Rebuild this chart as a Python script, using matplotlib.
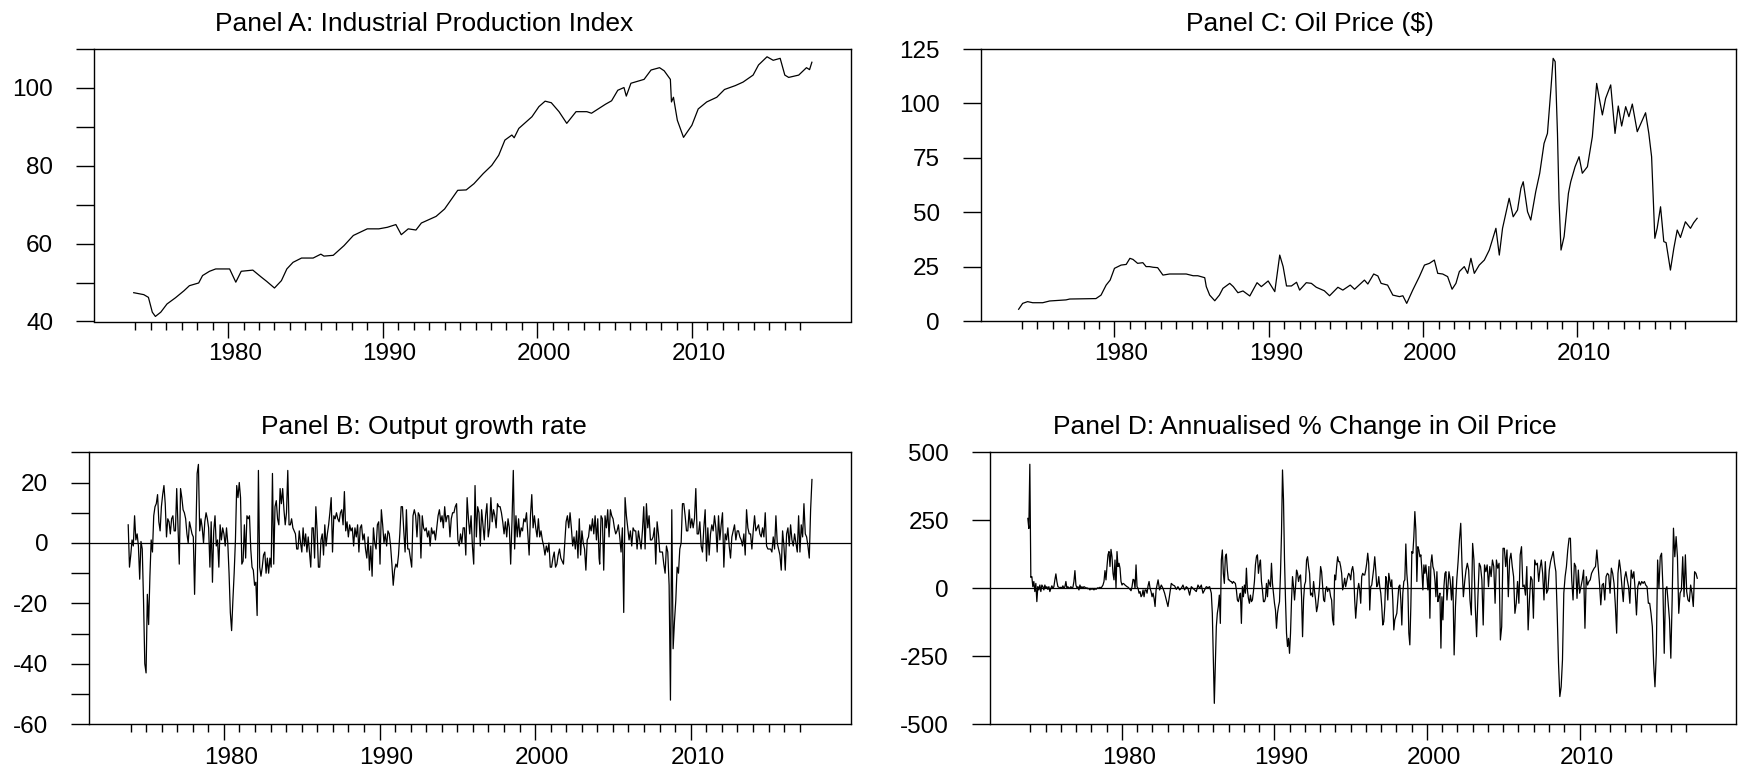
import numpy as np
import matplotlib
matplotlib.use("Agg")
import matplotlib.pyplot as plt

plt.rcParams['font.family'] = ['Liberation Sans', 'DejaVu Sans']

# ---- Panel A: industrial production index ----
ip_years = [1973.9, 1974.55, 1974.85, 1975.1, 1975.3, 1975.65, 1976.05, 1976.6, 1977.15, 1977.5,
            1978.1, 1978.35, 1978.8, 1979.2, 1979.75, 1980.1, 1980.5, 1980.85, 1981.6, 1982.15,
            1982.5, 1983.0, 1983.45, 1983.8, 1984.2, 1984.75, 1985.5, 1986.0, 1986.2, 1986.8,
            1987.5, 1988.1, 1989.0, 1989.75, 1990.3, 1990.85, 1991.2, 1991.65, 1992.15, 1992.5,
            1993.45, 1994.0, 1994.85, 1995.4, 1995.9, 1996.5, 1997.05, 1997.5, 1997.9, 1998.35,
            1998.5, 1998.8, 1999.65, 2000.1, 2000.5, 2000.9, 2001.4, 2001.9, 2002.5, 2003.2,
            2003.5, 2004.4, 2004.8, 2005.2, 2005.6, 2005.75, 2006.05, 2006.9, 2007.35, 2007.9,
            2008.2, 2008.6, 2008.67, 2008.8, 2009.05, 2009.45, 2009.99, 2010.4, 2010.95, 2011.6,
            2012.1, 2012.8, 2013.3, 2013.95, 2014.3, 2014.85, 2015.25, 2015.7, 2016.0, 2016.25,
            2016.9, 2017.4, 2017.6, 2017.75]
ip_values = [47.4, 46.9, 46.2, 42.4, 41.3, 42.4, 44.5, 46.1, 47.9, 49.2,
             49.9, 51.8, 52.9, 53.5, 53.5, 53.5, 50.1, 52.9, 53.2, 51.4,
             50.3, 48.6, 50.5, 53.5, 55.2, 56.3, 56.3, 57.3, 56.8, 57.0,
             59.5, 62.1, 63.8, 63.8, 64.2, 64.9, 62.3, 63.8, 63.5, 65.3,
             67.0, 68.9, 73.7, 73.8, 75.4, 78.0, 80.1, 82.7, 86.6, 87.9,
             87.2, 89.6, 92.6, 95.2, 96.6, 96.2, 93.9, 90.9, 93.9, 93.9,
             93.5, 95.8, 96.7, 99.4, 100.1, 97.9, 101.2, 102.2, 104.6, 105.2,
             104.4, 102.2, 96.4, 97.6, 91.7, 87.3, 90.4, 94.6, 96.4, 97.6,
             99.6, 100.6, 101.5, 103.3, 105.9, 108.0, 107.1, 107.6, 103.3, 102.7,
             103.3, 105.2, 104.7, 106.6]

# ---- Panel B: output growth rate, monthly, in three stretches ----
growth_spans = [(1973.85, 1986.73), (1986.81, 2004.11), (2004.15, 2017.79)]
growth_1 = [6, -8, -4, 1, -1, 9, 1, 3, -1, -12, 0.5, -2, -19, -40, -43, -17, -27, -11, 1, -3,
            9, 12, 13, 16, 7, 4, 12, 16, 19, 13, 2, 8, 7, 3, 8, 9, 4, 4, 18, 6,
            -7, 18, 15, 11, 10, 8, 3, 0, 7, 5, 3, 2, -17, 3, 23, 26, 4, 8, 5, 0,
            7, 10, 8, 5, -8, 7, -13, 4, 9, -1, 1, -8, 6, 1, 5, 3, -1, 5, 0, -10,
            -23, -29, -19, -10, 1, 19, 15, 20, 15, -7, -6, 6, -5, 9, 8, 9, -2, -8, -9, -14,
            -13, -24, 24, -8, -11, -8, -4, -3, -10, -5, -10, -5, -8, 23, -7, 12, 14, 8, 6, 18,
            13, 18, 11, 6, 10, 24, 6, 6, 8, 5, 4, 3, -2, -2, 4, 0, -3, 5, -1, 3,
            -3, 2, -3, -8, 5, 5, -5, 12, 4, -8, -8, 1, 3, -4, 6, -1, 3, 6]
growth_2 = [10, 15, -3, 9, 8, 10, 8, 7, 10, 11, 6, 17, 4, 7, 2, 6, 4, 5, -1, 5,
            2, 6, -3, 5, 6, 1, 3, -2, -5, 2, -9, -1, -11, 5, 0, -2, 6, 7, -7, 11,
            6, 0, 3, -1, 4, 3, -1, -7, -14, -9, -7, -8, -4, 3, 12, 12, 4, -3, 11, -2,
            -2, -5, -8, 9, 11, 9, 2, 10, 9, -5, 9, 5, 4, 5, 2, 4, -1, 5, 3, 4,
            1, 5, 9, 11, 7, 9, 5, 12, 7, 9, 9, 2, 8, 10, 10, 12, 13, 1, -1, 3,
            0, 5, 5, -4, 15, 8, 3, 9, -1, -7, 19, 2, 12, 10, -1, 11, 6, 1, 9, 13,
            2, 5, 15, 7, 11, 9, 5, 13, 12, 12, 10, 7, 3, 7, 2, 8, 5, -7, 7, 24,
            -2, 9, 2, 8, 2, 5, 4, 8, 7, 10, 3, -4, 9, 16, 5, 9, 5, 2, 8, 2,
            4, 1, -1, -4, -1, -3, 0, -8, -8, -5, -3, -8, -7, -4, -2, -5, -6, -7, 0, 7,
            9, 5, 10, 5, -1, 2, -2, 4, -5, 8, -4, 4, 0, -2, -9, 1, 2, 6, 4, 8,
            3, 9, 1, 8, -5]
growth_3 = [-7, 9, 8, -9, 9, 5, 11, 2, 11, 9, 8, 5, 3, 4, 6, 2, -3, 5, -23, 15,
            9, 5, 1, 4, -1, 5, 4, 4, -2, 4, 1, -2, 4, 12, -2, 13, 5, 9, 1, 1,
            2, 5, -7, 7, 3, -3, -3, -3, -7, -10, -1, -3, -14, -52, 11, -35, -26, -19, -8, -10,
            -2, 0, 13, 13, 9, 4, 4, 11, 5, 8, 5, 8, 18, 3, 3, 7, -1, -3, 5, 11,
            -6, 5, -4, 3, 6, 4, 9, 5, -3, 9, 1, 6, 10, -8, 3, 1, 5, -1, -5, 2,
            4, 6, 1, 4, 4, 2, 1, -1, 3, -4, 11, 5, 3, 3, -2, 4, 9, 4, 5, 6,
            3, 2, 5, 2, 10, -1, -2, -2, -2, -3, 2, -2, 9, 0, -2, -4, -9, 4, -1, -9,
            3, 5, -1, 6, 1, -1, 3, 0, -3, 9, -3, 6, 2, 13, 3, 2, -1, -5, 11, 21]

# ---- Panel C: oil price ($) ----
oil_years = [1973.79, 1974.05, 1974.37, 1974.7, 1975.35, 1975.8, 1976.86, 1977.1, 1978.8, 1979.13,
             1979.46, 1979.72, 1980.0, 1980.43, 1980.76, 1981.0, 1981.2, 1981.5, 1981.84, 1982.05,
             1982.27, 1982.5, 1982.8, 1983.14, 1983.57, 1984.65, 1985.1, 1985.4, 1985.85, 1985.95,
             1986.17, 1986.5, 1986.8, 1987.03, 1987.47, 1987.7, 1988.0, 1988.33, 1988.77, 1989.24,
             1989.52, 1989.96, 1990.39, 1990.71, 1990.93, 1991.15, 1991.47, 1991.8, 1992.0, 1992.43,
             1992.76, 1993.08, 1993.6, 1993.94, 1994.48, 1994.8, 1995.28, 1995.56, 1996.2, 1996.42,
             1996.8, 1997.07, 1997.28, 1997.7, 1998.04, 1998.47, 1998.69, 1998.94, 1999.33, 1999.76,
             2000.09, 2000.41, 2000.73, 2000.95, 2001.27, 2001.59, 2001.88, 2002.13, 2002.35, 2002.67,
             2002.89, 2003.1, 2003.32, 2003.64, 2003.97, 2004.29, 2004.72, 2004.94, 2005.15, 2005.58,
             2005.84, 2006.12, 2006.34, 2006.49, 2006.77, 2006.98, 2007.3, 2007.56, 2007.84, 2008.06,
             2008.28, 2008.43, 2008.56, 2008.71, 2008.81, 2008.94, 2009.14, 2009.42, 2009.57, 2009.85,
             2010.11, 2010.32, 2010.65, 2010.97, 2011.25, 2011.4, 2011.62, 2011.83, 2012.16, 2012.44,
             2012.65, 2012.87, 2013.13, 2013.34, 2013.56, 2013.88, 2014.42, 2014.63, 2014.81, 2015.02,
             2015.17, 2015.39, 2015.6, 2015.75, 2016.03, 2016.25, 2016.47, 2016.68, 2017.0, 2017.33,
             2017.54, 2017.76]
oil_values = [5.4, 8.1, 8.9, 8.4, 8.4, 9.2, 9.7, 10.1, 10.3, 11.9,
              16.5, 18.8, 24.2, 25.7, 26.0, 28.8, 28.3, 26.5, 26.8, 25.0,
              25.0, 24.7, 24.5, 21.1, 21.6, 21.6, 20.8, 20.8, 19.9, 15.8,
              11.9, 9.3, 11.9, 15.0, 17.3, 15.8, 13.0, 13.8, 11.5, 17.6,
              15.8, 18.4, 13.5, 30.3, 25.0, 16.1, 16.1, 17.8, 14.2, 17.6,
              17.3, 15.5, 13.9, 11.6, 15.5, 14.2, 16.5, 14.6, 18.8, 17.0,
              21.6, 20.7, 17.3, 16.5, 11.9, 11.2, 11.6, 8.1, 14.2, 20.4,
              25.7, 26.5, 28.0, 21.9, 21.6, 20.4, 14.6, 17.3, 22.7, 25.0,
              21.9, 28.8, 21.9, 25.7, 28.0, 32.6, 42.6, 30.3, 42.6, 56.4,
              47.9, 51.0, 61.0, 64.0, 50.2, 46.4, 59.4, 67.9, 81.6, 86.2,
              106.2, 120.7, 119.2, 86.2, 55.6, 32.6, 38.8, 58.7, 64.0, 70.9,
              75.5, 67.9, 70.9, 84.7, 109.2, 103.1, 94.7, 102.3, 108.5, 86.2,
              98.8, 89.6, 98.5, 93.9, 99.7, 87.0, 95.7, 86.2, 75.5, 38.0,
              42.6, 52.5, 36.5, 36.0, 23.4, 33.4, 41.8, 38.4, 45.6, 42.6,
              45.2, 47.2]

# ---- Panel D: annualised % change in oil price, monthly, in stretches ----
change_spans = [(1973.83, 1982.37), (1982.47, 1985.75), (1985.86, 2001.44), (2001.52, 2017.72)]
change_1 = [257, 220, 456, 40, 43, 6, 25, -12, 18, -49, 6, -6, 12, -12, 12, 6, -6, 12, 0, 6,
            -4, 6, -12, 0, 9, 0, 6, 31, 53, 25, 6, 4, 0, 4, 0, 9, 0, 6, 25, 0,
            6, 0, 2, 6, 0, 4, 25, 65, 12, 2, 6, -6, 12, 0, 6, 0, 6, 4, 0, 2,
            -2, 0, -6, 0, -4, 0, -6, 0, -4, 0, 2, 0, 4, 0, 6, 12, 25, 65, 31, 80,
            123, 135, 80, 143, 116, 55, 31, 104, 0, 135, 80, 92, 74, 25, 12, 18, 16, 12, 9, 6,
            4, 0, -4, -9, 6, 33, 31, 0, 86, 6, 0, -18, -12, -31, -25, -6, -31, -6, -6, -18,
            9, 25, 0, -12, -31, -18, -37, -67, -6, 12, 31]
change_2 = [-6, 12, 0, -18, -43, -67, -25, 18, 12, 9, -4, 6, -6, 0, 12, -6, 6, 0, -25, 6,
            0, -6, -12, 12, 0, 12, -18, -6, 6, 2, 6]
change_3 = [-18, -92, -263, -423, -288, -141, -92, -67, -25, -129, 104, 141, 55, 18, 116, 126, 67, 31, 31, 25,
            25, 18, 25, 21, 18, -6, -43, -49, -31, -18, -129, 6, -31, 12, -18, 74, -6, -37, -55, -25,
            -49, -43, -12, 25, 86, 116, 123, 55, 86, 104, 25, -6, -49, -49, -37, 18, -31, 31, 18, 6,
            92, 18, -18, -55, -80, -147, -92, -67, -49, 55, 202, 435, 325, 104, -43, -165, -214, -184, -239, -165,
            -43, 43, 6, -43, 6, 67, 55, 25, 43, 49, -31, -178, -43, 12, 25, 104, 116, 80, 55, -25,
            -18, -31, 25, -12, -43, -86, -67, -31, 12, 80, 61, 6, -43, -49, -6, 6, -12, 0, -6, -31,
            -43, -116, -135, 49, 31, 80, 116, 98, 98, 80, 55, -6, 12, 37, 6, 25, 43, 55, 49, 31,
            67, 80, 55, -43, -110, -55, -6, 18, -6, -55, 43, 55, 49, 49, 67, 92, 129, 92, -80, 6,
            12, 43, 74, 116, 67, 6, 12, 43, 6, -18, -67, -135, -123, -67, 43, 25, -43, 55, 31, 6,
            31, -43, -153, -116, -104, -92, -43, 6, 12, -43, -135, -18, 25, 31, 163, 55, 6, -165, -208, -67,
            135, 129, 190, 282, 214, 25, 153, 141, 116, 123, 67, -6, 86, 55, 86, 43, -6, 80, -110, 92,
            123, 80, 67, 31, -31, 61, -49, -31, -18, -220, -31, -116, 6, 55, 61, -43, 6, 61]
change_4 = [31, -43, 43, -245, -67, 31, 98, 178, 239, 80, -31, 25, 67, 92, 67, -43, -98, 165, 104, -67,
            -178, -31, 92, 80, 31, -135, 86, 61, 86, 6, 80, 43, 104, 80, -55, 104, 74, 92, -190, -141,
            147, 147, 80, 141, -31, 104, 129, 80, 43, -92, -55, 25, -55, 123, 153, 6, 12, -25, 80, -153,
            -43, 43, 31, -110, 104, 86, 92, 25, 74, 104, 55, -43, 98, -18, -6, 67, 98, 116, 135, 92,
            61, -92, -276, -398, -362, -263, -18, 43, 80, 141, 184, 184, 31, -43, 92, 80, -37, 67, -18, 6,
            31, 67, -147, 43, 12, 25, 31, 55, 65, 74, 80, 141, 80, 18, -61, 12, 18, -43, 43, 55,
            49, -18, 74, 55, 18, -61, -165, 55, 104, 67, 6, -49, 37, 61, 31, 6, -55, 67, 37, 61,
            -6, -98, 6, 25, 12, 25, 18, 25, 12, 6, -55, -55, -92, -141, -276, -362, -239, 104, 0, 116,
            129, 6, -239, -6, 6, -55, -116, -257, -43, 221, 116, 190, 116, -92, -18, -6, 116, -31, 123, -12,
            -43, -49, 12, -18, -67, 61, 55, 37]

decade_years = [1980, 1990, 2000, 2010]


def stitch(spans, pieces):
    xs, ys = [], []
    for (start, end), vals in zip(spans, pieces):
        xs.append(np.linspace(start, end, len(vals)))
        ys.append(np.asarray(vals, dtype=float))
    return np.concatenate(xs), np.concatenate(ys)


growth_x, growth_y = stitch(growth_spans, [growth_1, growth_2, growth_3])
change_x, change_y = stitch(change_spans, [change_1, change_2, change_3, change_4])

W, H = 1739, 773
fig = plt.figure(figsize=(W / 100, H / 100), dpi=100)


def make_axes(left, right, top, bottom):
    return fig.add_axes([left / W, 1 - bottom / H, (right - left) / W, (bottom - top) / H])


def style(ax, ylim, yticks, ylabels, title, title_x, xlab_drop):
    ax.set_xlim(1971.35, 2020.28)
    ax.set_ylim(*ylim)
    ax.set_yticks(yticks)
    ax.set_yticklabels(ylabels)
    ax.set_xticks(decade_years)
    ax.set_xticklabels([''] * len(decade_years))
    ax.set_xticks([y for y in range(1974, 2018) if y % 10 != 0], minor=True)
    for s in ax.spines.values():
        s.set_linewidth(1.0)
        s.set_color('black')
    ax.tick_params(axis='y', direction='out', length=12.7, width=1.0, pad=16.8, labelsize=17.5)
    ax.tick_params(axis='x', which='major', direction='out', length=11.5, width=1.0)
    ax.tick_params(axis='x', which='minor', direction='out', length=6, width=1.0)
    # EViews-style year labels, sitting a little right of the decade tick
    for yr in decade_years:
        ax.annotate(str(yr), xy=(yr, 0), xycoords=ax.get_xaxis_transform(),
                    xytext=(5, -xlab_drop), textcoords='offset points',
                    ha='center', va='top', fontsize=17.5, annotation_clip=False)
    ax.set_title(title, x=title_x, pad=13, fontsize=19)


axA = make_axes(94.3, 851, 49, 321.5)
axA.plot(ip_years, ip_values, color='black', lw=0.9)
style(axA, (40, 110), list(range(40, 111, 10)), ['40', '', '60', '', '80', '', '100', ''],
      'Panel A: Industrial Production Index', 0.436, 15.6)

axB = make_axes(89.3, 850.7, 452.3, 724.3)
axB.axhline(0, color='black', lw=0.9)
axB.plot(growth_x, growth_y, color='black', lw=0.9)
style(axB, (-60, 30), list(range(-60, 31, 10)),
      ['-60', '', '-40', '', '-20', '', '0', '', '20', ''],
      'Panel B: Output growth rate', 0.44, 16.1)

axC = make_axes(981, 1736, 49, 321)
axC.plot(oil_years, oil_values, color='black', lw=0.9)
style(axC, (0, 125), [0, 25, 50, 75, 100, 125], ['0', '25', '50', '75', '100', '125'],
      'Panel C: Oil Price ($)', 0.436, 15.6)

axD = make_axes(990, 1736.3, 452.3, 724.3)
axD.axhline(0, color='black', lw=0.9)
axD.plot(change_x, change_y, color='black', lw=0.9)
style(axD, (-500, 500), [-500, -250, 0, 250, 500], ['-500', '-250', '0', '250', '500'],
      'Panel D: Annualised % Change in Oil Price', 0.422, 16.1)

fig.savefig('out.png', dpi=100)
